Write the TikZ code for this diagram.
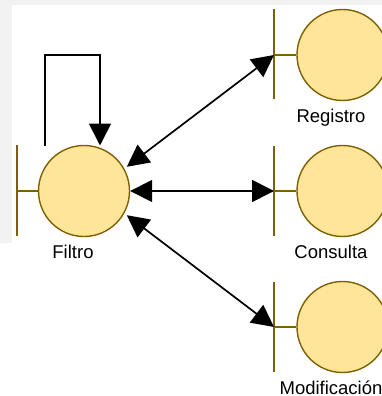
\documentclass[tikz,border=0pt]{standalone}
\usepackage{fontspec}
\setmainfont{Liberation Sans}
\usetikzlibrary{arrows.meta}
\definecolor{bfill}{HTML}{FFE599}
\definecolor{bline}{HTML}{7F6000}
\definecolor{bggray}{HTML}{F2F2F2}
\tikzset{
  boundary/.style={circle, draw=bline, fill=bfill, line width=1.4pt, minimum size=91pt, inner sep=0pt},
  barline/.style={draw=bline, line width=1.4pt},
  lbl/.style={anchor=base, font=\fontsize{18.5}{20}\selectfont, inner sep=0pt},
  conn/.style={line width=1.7pt, -{Triangle[length=22pt,width=22pt]}},
  bconn/.style={line width=1.7pt, {Triangle[length=22pt,width=22pt]}-{Triangle[length=22pt,width=22pt]}}
}
\begin{document}
\begin{tikzpicture}[x=1pt,y=-1pt]
\useasboundingbox (0,0) rectangle (382,396);
\clip (0,0) rectangle (382,396);
\fill[bggray] (0,0) rectangle (382,5);
\fill[bggray] (0,0) rectangle (12,243);
% Filtro
\node[boundary] (filtro) at (84,191) {};
\coordinate (fbar) at (17,191);
\draw[barline] (17,145) -- (17,236);
\draw[barline] (fbar) -- (filtro.west);
\node[lbl] (lfiltro) at (73,258) {Filtro};
% Registro
\node[boundary] (registro) at (342.5,55) {};
\coordinate (rbar) at (274,55);
\draw[barline] (274,9) -- (274,99);
\draw[barline] (rbar) -- (registro.west);
\node[lbl] (lregistro) at (331,122) {Registro};
% Consulta
\node[boundary] (consulta) at (342.5,191) {};
\coordinate (cbar) at (274,191);
\draw[barline] (274,146) -- (274,236);
\draw[barline] (cbar) -- (consulta.west);
\node[lbl] (lconsulta) at (331,258) {Consulta};
% Modificacion
\node[boundary] (modif) at (342.5,327) {};
\coordinate (mbar) at (274,327);
\draw[barline] (274,282) -- (274,372);
\draw[barline] (mbar) -- (modif.west);
\node[lbl] (lmodif) at (331,394) {Modificación};
% connectors
\coordinate (loopstart) at (45,145.5);
\coordinate (loopend) at (100,145.5);
\draw[conn] (loopstart) -- (45,55) -- (100,55) -- (loopend);
\draw[bconn, shorten <=3pt] (filtro.29) -- (rbar);
\draw[bconn] (filtro.0) -- (cbar);
\draw[bconn, shorten <=3pt] (filtro.-29) -- (mbar);
\end{tikzpicture}
\end{document}
